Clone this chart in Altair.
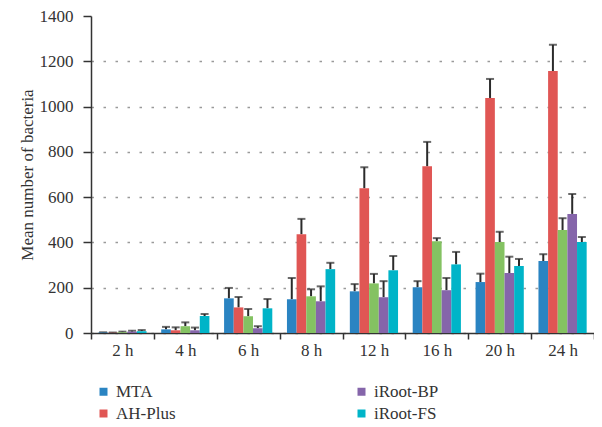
import altair as alt
import pandas as pd

times = ["2 h", "4 h", "6 h", "8 h", "12 h", "16 h", "20 h", "24 h"]
groups = ["MTA", "AH-Plus", "Other sealer", "iRoot-BP", "iRoot-FS"]
colors = ["#2a84c2", "#e05654", "#84c262", "#8565aa", "#00b4c8"]

mta = [2, 16, 153, 149, 184, 202, 225, 318]
mta_sd = [1, 11, 46, 94, 32, 27, 37, 30]
ahplus = [1, 12, 113, 436, 639, 736, 1038, 1157]
ahplus_sd = [1, 13, 46, 68, 93, 108, 84, 116]
other = [3, 30, 74, 162, 219, 405, 402, 455]
other_sd = [3, 17, 32, 31, 42, 14, 45, 52]
irootbp = [6, 12, 21, 140, 158, 189, 265, 526]
irootbp_sd = [4, 12, 9, 66, 71, 54, 72, 88]
irootfs = [8, 75, 109, 282, 277, 303, 296, 402]
irootfs_sd = [5, 9, 41, 28, 63, 55, 31, 22]

legend_values = ["MTA", "iRoot-BP", "AH-Plus", "iRoot-FS"]
y_ticks = [0, 200, 400, 600, 800, 1000, 1200, 1400]

series = [mta, ahplus, other, irootbp, irootfs]
sds = [mta_sd, ahplus_sd, other_sd, irootbp_sd, irootfs_sd]
rows = []
for g, vals, sd in zip(groups, series, sds):
    for t, v, s in zip(times, vals, sd):
        rows.append({"time": t, "group": g, "value": v, "upper": v + s})
df = pd.DataFrame(rows)

FONT = "Liberation Serif"
TXT = "#333333"

x_enc = alt.X(
    "time:N",
    sort=times,
    scale=alt.Scale(paddingInner=0, paddingOuter=0),
    axis=alt.Axis(
        title=None,
        tickBand="extent",
        tickSize=6,
        labelPadding=3,
        labelFont=FONT,
        labelFontSize=17,
        labelColor=TXT,
        labelAngle=0,
        domainColor=TXT,
        domainWidth=1.5,
        tickColor=TXT,
        tickWidth=1.5,
        grid=False,
    ),
)
xo_enc = alt.XOffset(
    "group:N", sort=groups, scale=alt.Scale(paddingInner=0, paddingOuter=0.76)
)
y_scale = alt.Scale(domain=[0, 1400], nice=False)

base = alt.Chart(df).encode(x=x_enc, xOffset=xo_enc)

bars = base.mark_bar().encode(
    y=alt.Y(
        "value:Q",
        scale=y_scale,
        axis=alt.Axis(
            values=y_ticks,
            format="d",
            title="Mean number of bacteria",
            titleFont=FONT,
            titleFontSize=17,
            titleFontWeight="normal",
            titleColor=TXT,
            titlePadding=3,
            labelFont=FONT,
            labelFontSize=17,
            labelColor=TXT,
            labelPadding=10,
            tickSize=8,
            tickColor=TXT,
            tickWidth=1.5,
            domainColor=TXT,
            domainWidth=1.5,
            grid=True,
            gridColor="#9a9a9a",
            gridDash=[2.5, 9.5],
            gridWidth=1.5,
            gridOpacity=alt.condition("datum.value >= 1400", alt.value(0), alt.value(1)),
        ),
    ),
    color=alt.Color(
        "group:N",
        sort=groups,
        scale=alt.Scale(domain=groups, range=colors),
        legend=alt.Legend(
            values=legend_values,
            title=None,
            orient="none",
            legendX=4,
            legendY=367,
            columns=2,
            direction="horizontal",
            columnPadding=177,
            rowPadding=4,
            padding=0,
            symbolType="square",
            symbolSize=64,
            symbolStrokeWidth=0,
            labelFont=FONT,
            labelFontSize=17,
            labelColor=TXT,
            labelOffset=4,
        ),
    ),
)

rules = base.mark_rule(color="#2b2b2b", strokeWidth=2).encode(
    y=alt.Y("value:Q", scale=y_scale), y2="upper:Q"
)
caps = base.mark_tick(color="#2b2b2b", thickness=2, size=8, orient="horizontal").encode(
    y=alt.Y("upper:Q", scale=y_scale)
)

chart = (
    alt.layer(rules, caps, bars)
    .properties(
        width=503,
        height=317,
        autosize=alt.AutoSizeParams(type="none"),
        padding={"left": 83, "top": 8, "right": 0, "bottom": 88},
        background="white",
    )
    .configure_view(stroke=None)
)

chart.save("out.html", embed_options={"renderer": "svg", "actions": False})
